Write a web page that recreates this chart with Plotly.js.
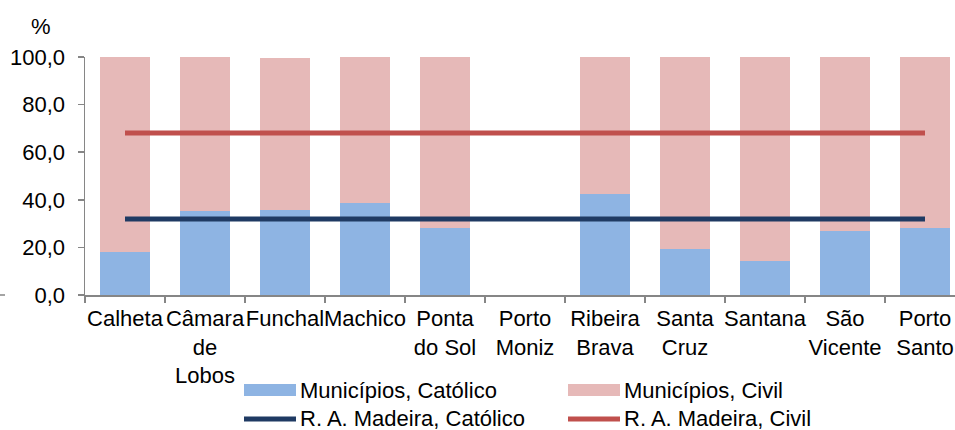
<!DOCTYPE html>
<html>
<head>
<meta charset="utf-8">
<script src="https://cdn.plot.ly/plotly-3.0.1.min.js"></script>
<style>html,body{margin:0;padding:0;background:#fff;}#chart{width:955px;height:430px;}</style>
</head>
<body>
<div id="chart"></div>
<script>
// Data
var categories = ["Calheta", "Câmara<br>de<br>Lobos", "Funchal", "Machico", "Ponta<br>do Sol", "Porto<br>Moniz", "Ribeira<br>Brava", "Santa<br>Cruz", "Santana", "São<br>Vicente", "Porto<br>Santo"];
var municipiosCatolico = [18.1, 35.3, 35.7, 38.7, 28.0, null, 42.4, 19.2, 14.3, 26.8, 28.0];
var municipiosCivil   = [81.9, 64.7, 63.9, 61.3, 72.0, null, 57.6, 80.8, 85.7, 73.2, 72.0];
var madeiraCatolico   = [31.9, 31.9, 31.9, 31.9, 31.9, 31.9, 31.9, 31.9, 31.9, 31.9, 31.9];
var madeiraCivil      = [68.1, 68.1, 68.1, 68.1, 68.1, 68.1, 68.1, 68.1, 68.1, 68.1, 68.1];
var seriesNames = ["Municípios, Católico", "Municípios, Civil", "R. A. Madeira, Católico", "R. A. Madeira, Civil"];
var yTickVals = [0, 20, 40, 60, 80, 100];

var colors = {catBar: "#8EB4E3", civBar: "#E6B9B8", catLine: "#1F3A63", civLine: "#C0504D"};
var FONT = "Arial, 'Liberation Sans', sans-serif";
var FS = 22;

var traces = [
  {type: "bar", name: seriesNames[0], x: categories, y: municipiosCatolico, marker: {color: colors.catBar}, showlegend: false, hoverinfo: "skip"},
  {type: "bar", name: seriesNames[1], x: categories, y: municipiosCivil, marker: {color: colors.civBar}, showlegend: false, hoverinfo: "skip"},
  {type: "scatter", mode: "lines", name: seriesNames[2], x: categories, y: madeiraCatolico, line: {color: colors.catLine, width: 5}, showlegend: false, hoverinfo: "skip"},
  {type: "scatter", mode: "lines", name: seriesNames[3], x: categories, y: madeiraCivil, line: {color: colors.civLine, width: 5}, showlegend: false, hoverinfo: "skip"}
];

// plot geometry helpers for the hand-made legend (pixel -> paper)
var ML = 85, MT = 57, PW = 870, PH = 238;
function px(x){ return (x - ML) / PW; }
function py(y){ return (MT + PH - y) / PH; }

var legendItems = [
  {name: seriesNames[0], kind: "rect", color: colors.catBar, x: 244, y: 390},
  {name: seriesNames[1], kind: "rect", color: colors.civBar, x: 568, y: 390},
  {name: seriesNames[2], kind: "line", color: colors.catLine, x: 244, y: 418},
  {name: seriesNames[3], kind: "line", color: colors.civLine, x: 568, y: 418}
];
var shapes = [];
var annotations = [];
legendItems.forEach(function(it){
  if (it.kind === "rect") {
    shapes.push({type: "rect", xref: "paper", yref: "paper", x0: px(it.x), x1: px(it.x + 52), y0: py(it.y - 6), y1: py(it.y + 6), fillcolor: it.color, line: {width: 0}});
  } else {
    shapes.push({type: "line", xref: "paper", yref: "paper", x0: px(it.x), x1: px(it.x + 52), y0: py(it.y + 1), y1: py(it.y + 1), line: {color: it.color, width: 5}});
  }
  annotations.push({xref: "paper", yref: "paper", x: px(it.x + 55), y: py(it.y), xanchor: "left", yanchor: "middle", text: it.name, showarrow: false, borderpad: 0, font: {family: FONT, size: FS, color: "#000"}});
});
annotations.push({xref: "paper", yref: "paper", x: px(41), y: py(26), xanchor: "center", yanchor: "middle", text: "%", showarrow: false, font: {family: FONT, size: FS, color: "#000"}});
// stray tick at far left
shapes.push({type: "line", xref: "paper", yref: "paper", x0: px(0), x1: px(5), y0: 0, y1: 0, line: {color: "#868686", width: 1.5}});

var layout = {
  width: 955, height: 430,
  margin: {l: ML, r: 0, t: MT, b: 430 - MT - PH, pad: 0},
  paper_bgcolor: "#fff", plot_bgcolor: "#fff",
  barmode: "stack", bargap: 0.375,
  separators: ",.",
  font: {family: FONT, size: FS, color: "#000"},
  xaxis: {
    type: "category", range: [-0.5, 10.375], tickson: "boundaries", tickangle: 0,
    ticks: "outside", ticklen: 6, tickwidth: 1.5, tickcolor: "#868686",
    showline: true, linecolor: "#868686", linewidth: 1.5,
    showgrid: false, zeroline: false, fixedrange: true, ticklabelstandoff: 3,
    tickfont: {family: FONT, size: FS, color: "#000"}
  },
  yaxis: {
    range: [0, 100], tickvals: yTickVals, tickformat: ".1f",
    ticks: "outside", ticklen: 6, tickwidth: 1.5, tickcolor: "#868686",
    showline: true, linecolor: "#868686", linewidth: 1.5,
    showgrid: false, zeroline: false, fixedrange: true, ticklabelstandoff: 8,
    tickfont: {family: FONT, size: FS, color: "#000"}
  },
  shapes: shapes,
  annotations: annotations,
  showlegend: false
};

Plotly.newPlot("chart", traces, layout, {staticPlot: true, displayModeBar: false});
</script>
</body>
</html>
